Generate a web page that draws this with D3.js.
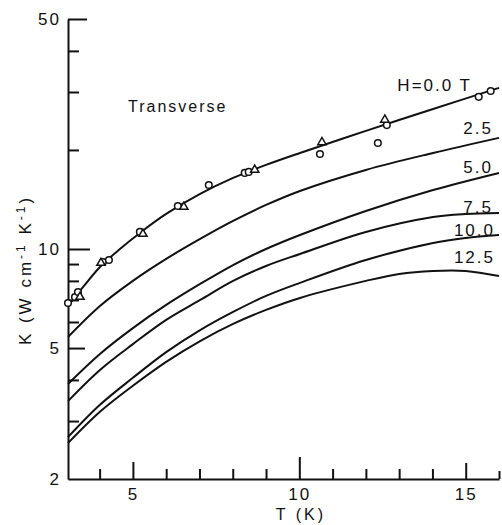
<!DOCTYPE html>
<html>
<head>
<meta charset="utf-8">
<script src="https://cdn.jsdelivr.net/npm/d3@7"></script>
<style>
  body { margin: 0; background: #fff; }
  text { font-family: "Liberation Sans", Arial, sans-serif; fill: #111; }
</style>
</head>
<body>
<div id="chart"></div>
<script>
// field labels and curves, K in W cm-1 K-1 vs T in K
var fieldLabels = ["H=0.0 T", "2.5", "5.0", "7.5", "10.0", "12.5"];

var h00T = [3.05, 3.53, 4.01, 4.61, 5.21, 6.0, 7.02, 8.01, 9.0, 10.02, 12.0, 14.02, 16.0];
var h00K = [6.71, 7.72, 8.82, 10.0, 11.19, 12.78, 14.70, 16.44, 18.01, 19.58, 22.85, 26.64, 30.87];

var h25T = [3.05, 4.01, 5.0, 6.0, 7.02, 8.01, 9.0, 10.02, 12.0, 14.02, 16.0];
var h25K = [5.40, 6.71, 8.00, 9.33, 10.73, 12.17, 13.61, 15.01, 17.39, 19.58, 21.76];

var h50T = [3.05, 4.01, 5.0, 6.0, 7.02, 8.01, 9.0, 10.02, 12.0, 14.02, 16.0];
var h50K = [3.89, 4.80, 5.75, 6.76, 7.83, 8.94, 10.0, 11.03, 13.05, 15.11, 17.03];

var h75T = [3.05, 4.01, 5.0, 6.0, 7.02, 8.01, 9.0, 10.02, 12.0, 14.02, 15.0, 16.0];
var h75K = [3.45, 4.29, 5.14, 6.09, 7.00, 8.00, 8.88, 9.66, 11.27, 12.51, 12.78, 12.87];

var h100T = [3.05, 4.01, 5.0, 6.0, 7.02, 8.01, 9.0, 10.02, 12.0, 14.02, 15.0, 16.0];
var h100K = [2.68, 3.36, 4.06, 4.86, 5.67, 6.44, 7.20, 7.89, 9.26, 10.43, 10.80, 11.03];

var h125T = [3.05, 4.01, 5.0, 6.0, 7.02, 8.01, 9.0, 10.02, 12.0, 13.0, 14.02, 15.0, 16.0];
var h125K = [2.57, 3.20, 3.84, 4.54, 5.25, 5.92, 6.53, 7.10, 8.00, 8.40, 8.58, 8.58, 8.28];

// measured points at H = 0
var circT = [3.05, 3.26, 3.35, 4.10, 4.28, 5.21, 6.35, 7.28, 8.36, 8.48, 10.62, 12.36, 12.63, 15.39, 15.75];
var circK = [6.85, 7.15, 7.40, 9.13, 9.26, 11.27, 13.51, 15.65, 17.03, 17.15, 19.45, 21.0, 23.8, 29.0, 30.2];
var triT = [3.41, 4.04, 5.30, 6.53, 8.66, 10.68, 12.57];
var triK = [7.15, 9.07, 11.11, 13.42, 17.40, 21.1, 24.7];

var yTicks = [2, 3, 4, 5, 6, 7, 8, 9, 10, 20, 30, 40, 50];
var yLabels = [2, 5, 10, 50];
var xTicks = [4, 5, 6, 7, 8, 9, 10, 11, 12, 13, 14, 15, 16];
var xLabels = [5, 10, 15];

var curves = [
  {T: h00T, K: h00K}, {T: h25T, K: h25K}, {T: h50T, K: h50K},
  {T: h75T, K: h75K}, {T: h100T, K: h100K}, {T: h125T, K: h125K}
];

var svgWidth = 502, svgHeight = 525;
var svg = d3.select("#chart").append("svg")
  .attr("width", svgWidth)
  .attr("height", svgHeight);

var x = d3.scaleLinear().domain([3.05, 16]).range([68, 499]);
var y = d3.scaleLog().domain([2, 50]).range([479, 19]);

// y axis, ticks pointing inward
function yLen(d) {
  if (d == 10) return 22;
  if (d == 5) return 17;
  if (d == 50) return 19;
  if (d == 2) return 0;
  return 11;
}
var gy = svg.append("g")
  .attr("transform", "translate(68,0)")
  .call(d3.axisLeft(y).tickValues(yTicks)
    .tickFormat(d => yLabels.includes(d) ? d : "")
    .tickSizeOuter(0));
gy.select(".domain").attr("stroke", "#111").attr("stroke-width", 2);
gy.selectAll(".tick line").attr("x2", d => yLen(d)).attr("stroke", "#111").attr("stroke-width", 2);
gy.selectAll(".tick text")
  .attr("x", -7)
  .attr("font-size", 17)
  .attr("letter-spacing", 2)
  .attr("font-family", "Liberation Sans, Arial, sans-serif")
  .attr("fill", "#111");

// x axis, ticks pointing up
function xLen(d) {
  if (d == 10) return 22;
  if (d == 5) return 17;
  if (d == 15) return 16;
  if (d == 16) return 8;
  return 10;
}
var gx = svg.append("g")
  .attr("transform", "translate(0,479)")
  .call(d3.axisBottom(x).tickValues(xTicks)
    .tickFormat(d => xLabels.includes(d) ? d : "")
    .tickSizeOuter(0));
gx.select(".domain").attr("stroke", "#111").attr("stroke-width", 2);
gx.selectAll(".tick line").attr("y2", d => -xLen(d)).attr("stroke", "#111").attr("stroke-width", 2);
gx.selectAll(".tick text")
  .attr("y", 9)
  .attr("font-size", 17)
  .attr("letter-spacing", 2)
  .attr("font-family", "Liberation Sans, Arial, sans-serif")
  .attr("fill", "#111");

// curves
var line = d3.line()
  .x(d => x(d[0]))
  .y(d => y(d[1]))
  .curve(d3.curveCatmullRom.alpha(0.5));

curves.forEach(function(c) {
  svg.append("path")
    .datum(c.T.map((t, i) => [t, c.K[i]]))
    .attr("d", line)
    .attr("fill", "none")
    .attr("stroke", "#111")
    .attr("stroke-width", 2);
});

// markers
svg.selectAll("circle.pt")
  .data(circT.map((t, i) => [t, circK[i]]))
  .enter().append("circle")
  .attr("class", "pt")
  .attr("cx", d => x(d[0]))
  .attr("cy", d => y(d[1]))
  .attr("r", 3.3)
  .attr("fill", "#fff")
  .attr("stroke", "#111")
  .attr("stroke-width", 1.5);

var tri = d3.symbol().type(d3.symbolTriangle).size(30);
svg.selectAll("path.tri")
  .data(triT.map((t, i) => [t, triK[i]]))
  .enter().append("path")
  .attr("class", "tri")
  .attr("d", tri)
  .attr("transform", d => "translate(" + x(d[0]) + "," + y(d[1]) + ")")
  .attr("fill", "#fff")
  .attr("stroke", "#111")
  .attr("stroke-width", 1.5);

// field labels at the right
var labelPos = [[472, 91], [493, 134], [493, 173], [493, 213], [495, 236], [495, 263]];
fieldLabels.forEach(function(s, i) {
  svg.append("text")
    .attr("x", labelPos[i][0])
    .attr("y", labelPos[i][1])
    .attr("text-anchor", "end")
    .attr("font-size", 17)
    .attr("letter-spacing", 2)
    .text(s);
});

svg.append("text")
  .attr("x", 128)
  .attr("y", 112)
  .attr("font-size", 16)
  .attr("letter-spacing", 2)
  .text("Transverse");

svg.append("text")
  .attr("x", 301)
  .attr("y", 520)
  .attr("text-anchor", "middle")
  .attr("font-size", 16)
  .attr("letter-spacing", 3)
  .text("T (K)");

var ylab = svg.append("text")
  .attr("transform", "translate(31,270) rotate(-90)")
  .attr("text-anchor", "middle")
  .attr("font-size", 17)
  .attr("letter-spacing", 3);
ylab.append("tspan").text("K (W cm");
ylab.append("tspan").attr("dy", -6).attr("font-size", 12).text("-1");
ylab.append("tspan").attr("dy", 6).text(" K");
ylab.append("tspan").attr("dy", -6).attr("font-size", 12).text("-1");
ylab.append("tspan").attr("dy", 6).text(")");
</script>
</body>
</html>
